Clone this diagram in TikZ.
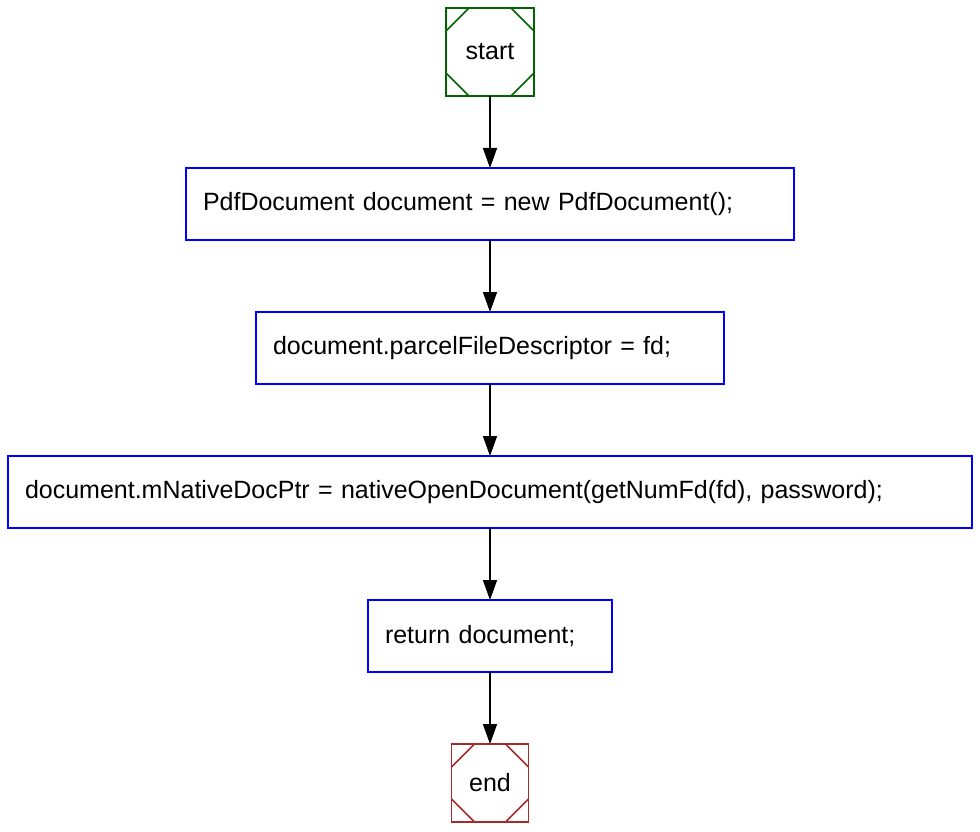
\documentclass[tikz,border=0pt]{standalone}
\usepackage{fontspec}
\setmainfont{Liberation Sans}
\usetikzlibrary{positioning, arrows.meta}

\definecolor{startgreen}{RGB}{0,100,0}
\definecolor{endbrown}{RGB}{165,42,42}

\tikzset{
  stmt/.style={draw=blue, line width=1.5pt, outer sep=0pt, minimum height=72pt, text width=#1,
    inner xsep=17pt, align=left},
  msq/.style={draw=#1, line width=1.5pt, outer sep=0pt, path picture={
    \draw[#1, line width=1.5pt]
      ([yshift=-23pt]path picture bounding box.north west) -- ([xshift=23pt]path picture bounding box.north west)
      ([yshift=-23pt]path picture bounding box.north east) -- ([xshift=-23pt]path picture bounding box.north east)
      ([yshift=23pt]path picture bounding box.south west) -- ([xshift=23pt]path picture bounding box.south west)
      ([yshift=23pt]path picture bounding box.south east) -- ([xshift=-23pt]path picture bounding box.south east);
  }},
  flow/.style={line width=1.5pt, -{Triangle[length=20pt, width=14pt]}}
}

\begin{document}
\begin{tikzpicture}[x=1pt, y=-1pt, node distance=72pt, font=\fontsize{25}{30}\selectfont]
  \useasboundingbox (0,0) rectangle (980,832);

  \node (start) [msq=startgreen, minimum width=88pt, minimum height=88pt] at (490,52) {start};
  \node (newdoc) [stmt=574pt, below=of start] {PdfDocument document = new PdfDocument();};
  \node (setfd) [stmt=434pt, below=of newdoc] {document.parcelFileDescriptor = fd;};
  \node (openptr) [stmt=930pt, below=of setfd] {document.mNativeDocPtr = nativeOpenDocument(getNumFd(fd), password);};
  \node (retdoc) [stmt=210pt, below=of openptr] {return document;};
  \node (end) [msq=endbrown, minimum width=77pt, minimum height=78pt, below=of retdoc] {end};

  \draw [flow] (start) -- (newdoc);
  \draw [flow] (newdoc) -- (setfd);
  \draw [flow] (setfd) -- (openptr);
  \draw [flow] (openptr) -- (retdoc);
  \draw [flow] (retdoc) -- (end);
\end{tikzpicture}
\end{document}
